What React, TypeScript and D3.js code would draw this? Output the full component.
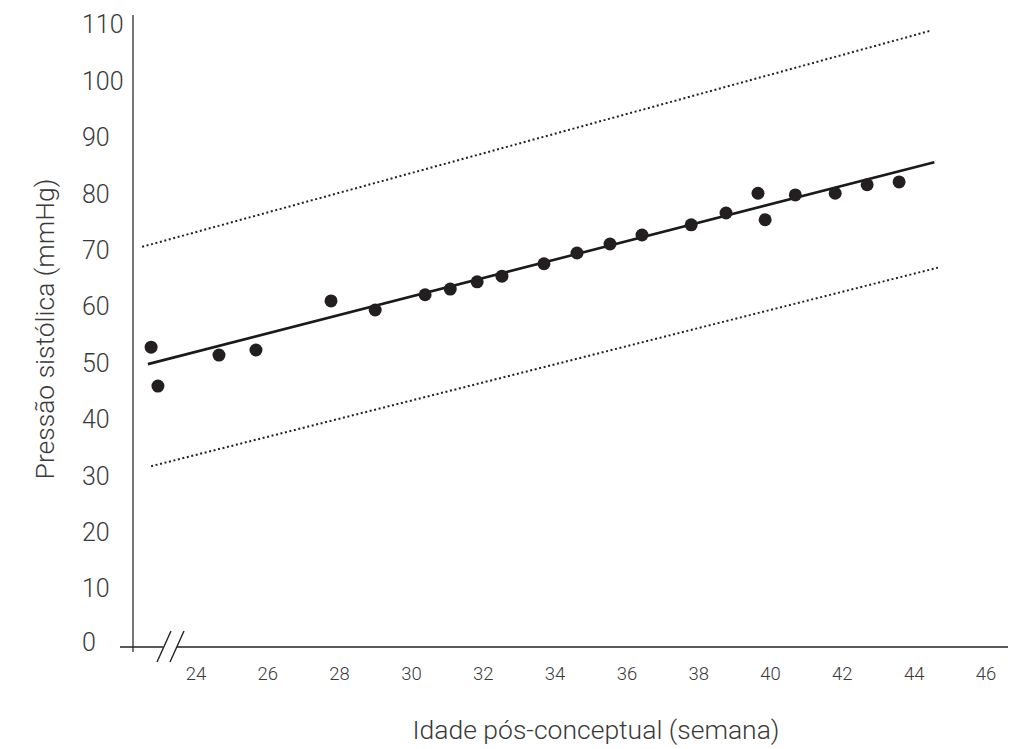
import React from "react";
import * as d3 from "d3";

const ageWeeks = [22.75, 22.94, 24.64, 25.67, 27.76, 28.99, 30.38, 31.08, 31.83, 32.52, 33.69, 34.61, 35.53, 36.42, 37.79, 38.76, 39.65, 39.85, 40.69, 41.8, 42.69, 43.58];
const systolic = [52.8, 45.9, 51.4, 52.3, 61.0, 59.4, 62.1, 63.1, 64.4, 65.4, 67.6, 69.5, 71.1, 72.7, 74.5, 76.6, 80.1, 75.4, 79.8, 80.1, 81.6, 82.1];

const regressionLine = [{ x: 22.66, y: 49.8 }, { x: 44.56, y: 85.6 }];
const upperLimit = [{ x: 22.5, y: 70.6 }, { x: 44.45, y: 108.9 }];
const lowerLimit = [{ x: 22.75, y: 31.7 }, { x: 44.72, y: 67.0 }];

const xTicks = [24, 26, 28, 30, 32, 34, 36, 38, 40, 42, 44, 46];
const yTicks = [0, 10, 20, 30, 40, 50, 60, 70, 80, 90, 100, 110];

const xTitle = "Idade pós-conceptual (semana)";
const yTitle = "Pressão sistólica (mmHg)";

export default function App() {
  const x = d3.scaleLinear().domain([24, 46]).range([196, 986]);
  const y = d3.scaleLinear().domain([0, 110]).range([645, 24.6]);
  const line = d3.line<{ x: number; y: number }>().x((d) => x(d.x)).y((d) => y(d.y));
  const font = "Roboto, 'Noto Sans', sans-serif";
  const textColor = "#3a3a3a";
  const axisColor = "#555";
  const axisY = 647;
  return (
    <svg width={1031} height={749} style={{ position: "absolute", left: 0, top: 0, background: "#fff" }}>
      {/* y axis */}
      <line x1={133} x2={133} y1={15} y2={652} stroke={axisColor} strokeWidth={1.6} />
      {/* x axis with break */}
      <line x1={120} x2={163} y1={axisY} y2={axisY} stroke="#222" strokeWidth={1.6} />
      <line x1={177} x2={1008} y1={axisY} y2={axisY} stroke="#222" strokeWidth={1.6} />
      <line x1={157} y1={662} x2={171} y2={631} stroke="#222" strokeWidth={1.4} />
      <line x1={170} y1={662} x2={184} y2={631} stroke="#222" strokeWidth={1.4} />
      {yTicks.map((t) => (
        <text key={t} x={82} y={y(t) - (t === 0 ? 3 : 0)} dy="0.35em" textAnchor="start" fontFamily={font} fontWeight={300} fontSize={25} fill={textColor}>
          {t}
        </text>
      ))}
      {xTicks.map((t) => (
        <text key={t} x={x(t)} y={680} textAnchor="middle" fontFamily={font} fontWeight={300} fontSize={18.5} fill={textColor}>
          {t}
        </text>
      ))}
      <text x={596} y={739} textAnchor="middle" fontFamily={font} fontWeight={300} fontSize={26.5} fill={textColor}>
        {xTitle}
      </text>
      <text transform="translate(54,329) rotate(-90)" textAnchor="middle" fontFamily={font} fontWeight={300} fontSize={26.5} fill={textColor}>
        {yTitle}
      </text>
      <path d={line(upperLimit) || ""} stroke="#222" strokeWidth={2} strokeDasharray="2,2.6" fill="none" />
      <path d={line(lowerLimit) || ""} stroke="#222" strokeWidth={2} strokeDasharray="2,2.6" fill="none" />
      <path d={line(regressionLine) || ""} stroke="#1a1a1a" strokeWidth={2.6} fill="none" />
      {ageWeeks.map((a, i) => (
        <circle key={i} cx={x(a)} cy={y(systolic[i])} r={6.5} fill="#231f20" />
      ))}
    </svg>
  );
}
